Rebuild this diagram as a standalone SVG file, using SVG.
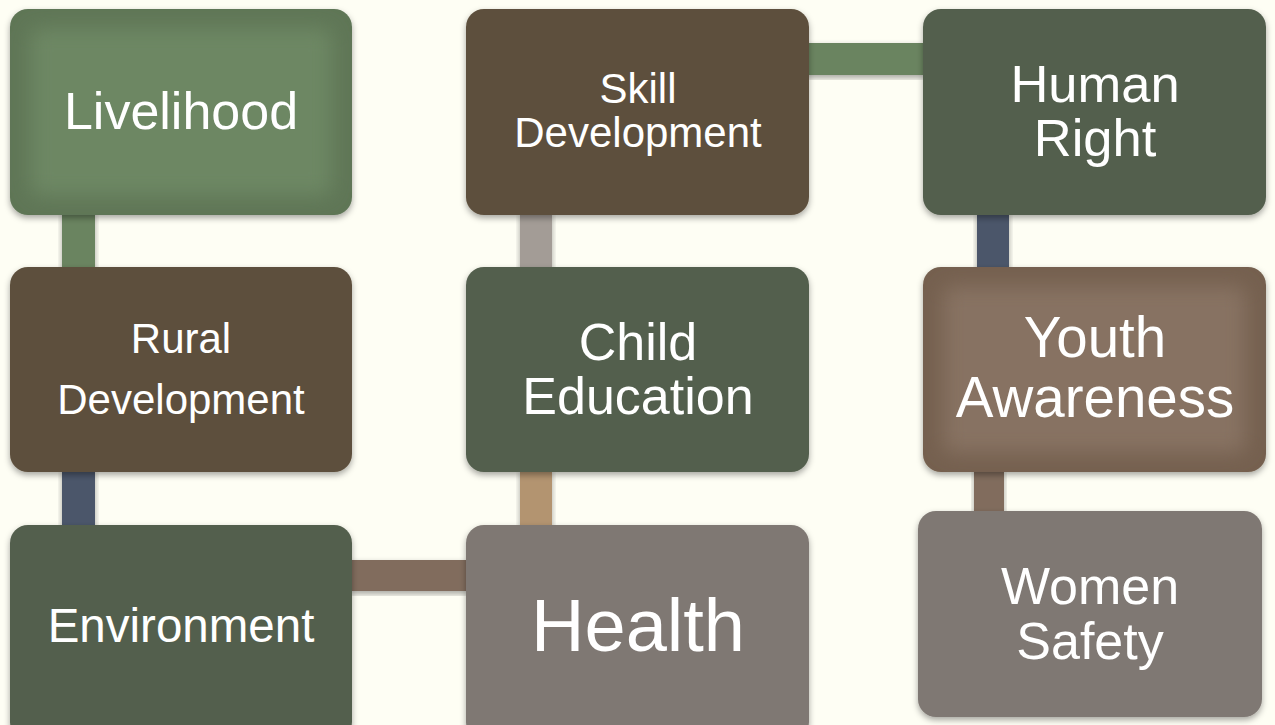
<svg xmlns="http://www.w3.org/2000/svg" width="1275" height="725" viewBox="0 0 1275 725">
<defs>
<style>
.lbl{font-family:"Liberation Sans",Arial,sans-serif;fill:#ffffff;text-anchor:middle}
.box{filter:url(#sh)}
</style>
<filter id="sh" x="-10%" y="-10%" width="120%" height="125%">
<feDropShadow dx="0" dy="3" stdDeviation="3" flood-color="#000" flood-opacity="0.35"/>
</filter>
<filter id="bl" x="-20%" y="-20%" width="140%" height="140%">
<feGaussianBlur stdDeviation="10"/>
</filter>
<clipPath id="cLive"><rect x="10" y="9" width="342" height="206" rx="18"/></clipPath>
<clipPath id="cYouth"><rect x="923" y="267" width="343" height="205" rx="18"/></clipPath>
</defs>
<rect width="1275" height="725" fill="#FEFEF4"/>
<g id="connectors">
<rect class="box" x="62" y="212" width="33" height="58" fill="#6B8461"/>
<rect class="box" x="62" y="469" width="33" height="58" fill="#4B566A"/>
<rect class="box" x="349" y="560" width="120" height="31" fill="#816C5D"/>
<rect class="box" x="520" y="469" width="32" height="58" fill="#B39470"/>
<rect class="box" x="520" y="212" width="32" height="58" fill="#A39C96"/>
<rect class="box" x="806" y="43" width="119" height="32" fill="#6B8461"/>
<rect class="box" x="977" y="212" width="32" height="58" fill="#4B566A"/>
<rect class="box" x="974" y="469" width="30" height="45" fill="#816C5D"/>
</g>
<g id="n-livelihood">
<rect class="box" x="10" y="9" width="342" height="206" rx="18" fill="#5F7657"/>
<g clip-path="url(#cLive)"><rect x="30" y="28" width="302" height="168" rx="10" fill="#6D8763" filter="url(#bl)"/></g>
<text class="lbl" x="181" y="129" font-size="52">Livelihood</text>
</g>
<g id="n-rural">
<rect class="box" x="10" y="267" width="342" height="205" rx="18" fill="#5D4F3C"/>
<text class="lbl" x="181" y="353" font-size="42">Rural</text>
<text class="lbl" x="181" y="414" font-size="42">Development</text>
</g>
<g id="n-environment">
<rect class="box" x="10" y="525" width="342" height="215" rx="18" fill="#535E4D"/>
<text class="lbl" x="181" y="642" font-size="47.5">Environment</text>
</g>
<g id="n-skill">
<rect class="box" x="466" y="9" width="343" height="206" rx="18" fill="#5D4F3C"/>
<text class="lbl" x="638" y="103" font-size="42">Skill</text>
<text class="lbl" x="638" y="147" font-size="42">Development</text>
</g>
<g id="n-child">
<rect class="box" x="466" y="267" width="343" height="205" rx="18" fill="#535E4D"/>
<text class="lbl" x="638" y="360" font-size="52">Child</text>
<text class="lbl" x="638" y="414" font-size="52">Education</text>
</g>
<g id="n-health">
<rect class="box" x="466" y="525" width="343" height="215" rx="18" fill="#7F7873"/>
<text class="lbl" x="638" y="651" font-size="74">Health</text>
</g>
<g id="n-human">
<rect class="box" x="923" y="9" width="343" height="206" rx="18" fill="#535E4D"/>
<text class="lbl" x="1095" y="102" font-size="52.5">Human</text>
<text class="lbl" x="1095" y="156" font-size="52.5">Right</text>
</g>
<g id="n-youth">
<rect class="box" x="923" y="267" width="343" height="205" rx="18" fill="#75614F"/>
<g clip-path="url(#cYouth)"><rect x="943" y="286" width="303" height="167" rx="10" fill="#877262" filter="url(#bl)"/></g>
<text class="lbl" x="1095" y="357" font-size="56.5">Youth</text>
<text class="lbl" x="1095" y="417" font-size="56.5">Awareness</text>
</g>
<g id="n-women">
<rect class="box" x="918" y="511" width="344" height="206" rx="18" fill="#7F7873"/>
<text class="lbl" x="1090" y="604" font-size="52">Women</text>
<text class="lbl" x="1090" y="659" font-size="52">Safety</text>
</g>
</svg>
